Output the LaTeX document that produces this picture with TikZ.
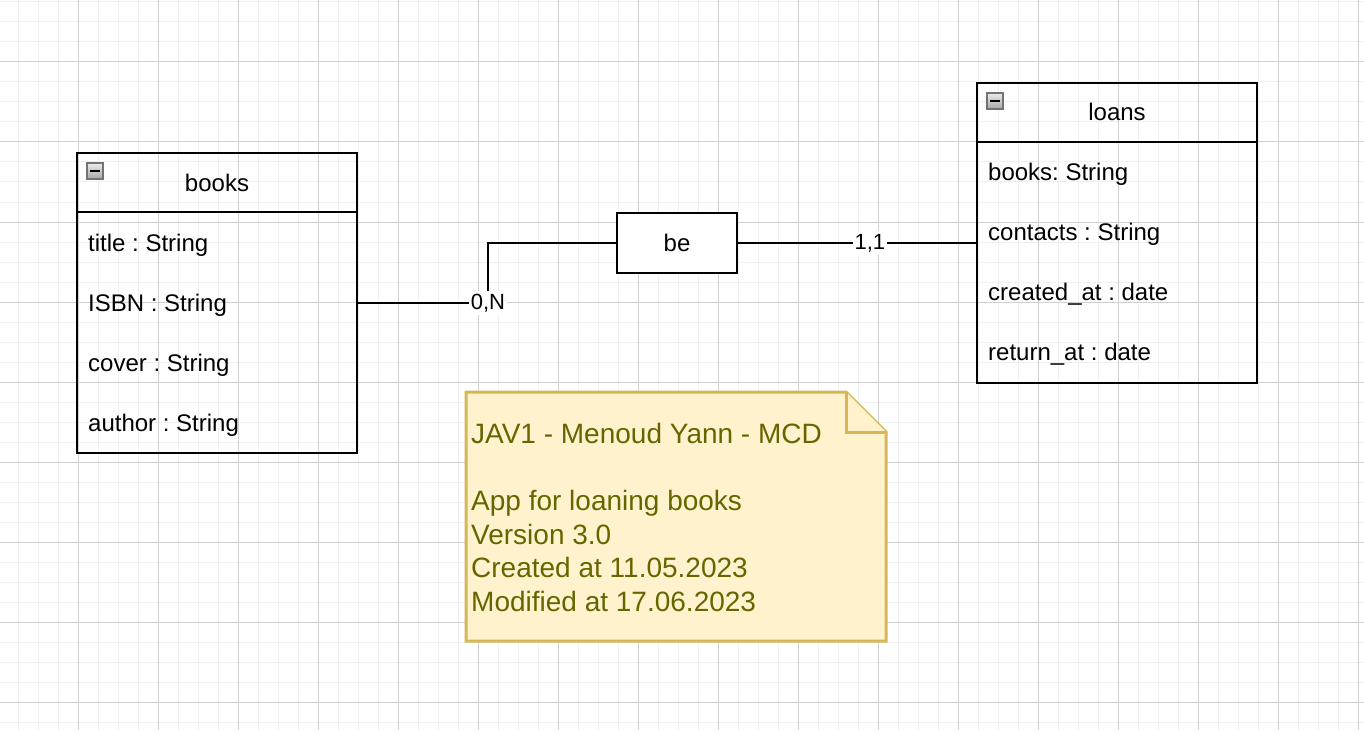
\documentclass[tikz,border=0pt]{standalone}
\usepackage{fontspec}
\setmainfont{Liberation Sans}
\definecolor{gridmajor}{RGB}{208,208,208}
\definecolor{gridminor}{RGB}{240,240,240}
\definecolor{notefill}{HTML}{FFF2CC}
\definecolor{notedraw}{HTML}{D6B656}
\definecolor{notetext}{HTML}{666600}
\begin{document}
\frenchspacing
\begin{tikzpicture}[x=1pt,y=-1pt,
  minorgrid/.style={draw=gridminor,line width=1pt},
  majorgrid/.style={draw=gridmajor,line width=1pt},
  entity/.style={draw=black,line width=2pt,rectangle,minimum width=280pt,minimum height=300pt,inner sep=0pt},
  sepline/.style={draw=black,line width=2pt},
  etitle/.style={font=\fontsize{24}{28.8}\selectfont\frenchspacing,inner sep=0pt,text=black},
  erow/.style={font=\fontsize{24}{28.8}\selectfont\frenchspacing,inner sep=0pt,text=black},
  minusicon/.style={rectangle,draw=black!55,line width=1.2pt,minimum width=16pt,minimum height=16pt,inner sep=0pt,
    top color=white!92!black,bottom color=black!35,
    path picture={\draw[black,line width=2.4pt] ([xshift=3pt]path picture bounding box.west) -- ([xshift=-3pt]path picture bounding box.east);}},
  relbox/.style={draw=black,fill=white,line width=2pt,rectangle,minimum width=120pt,minimum height=60pt,inner sep=0pt,font=\fontsize{24}{28.8}\selectfont},
  conn/.style={draw=black,line width=2pt},
  lbl/.style={fill=white,inner xsep=2pt,inner ysep=3pt,font=\fontsize{22}{26}\selectfont,text=black},
  notebox/.style={draw=notedraw,fill=notefill,line width=3pt,line join=miter},
  notetxt/.style={font=\fontsize{28}{33.6}\selectfont\frenchspacing,text=notetext,align=left,inner sep=0pt}
]
\useasboundingbox (0,0) rectangle (1364,730);
\fill[white] (0,0) rectangle (1364,730);
% grid
\foreach \x in {18,38,...,1358} \draw[minorgrid] (\x,0) -- (\x,730);
\foreach \y in {2,22,...,722} \draw[minorgrid] (0,\y) -- (1364,\y);
\foreach \x in {78,158,...,1358} \draw[majorgrid] (\x,0) -- (\x,730);
\foreach \y in {62,142,...,702} \draw[majorgrid] (0,\y) -- (1364,\y);

% books entity
\node[entity] (books) at (217,303) {};
\draw[sepline] ([yshift=-60pt]books.north west) -- ([yshift=-60pt]books.north east);
\node[minusicon] (booksI) at (95,171) {};
\node[etitle,anchor=base] (booksT) at (217,191) {books};
\node[erow,anchor=base west] (b1) at (88,251) {title : String};
\node[erow,anchor=base west] (b2) at (88,311) {ISBN : String};
\node[erow,anchor=base west] (b3) at (88,371) {cover : String};
\node[erow,anchor=base west] (b4) at (88,431) {author : String};

% loans entity
\node[entity] (loans) at (1117,233) {};
\draw[sepline] ([yshift=-60pt]loans.north west) -- ([yshift=-60pt]loans.north east);
\node[minusicon] (loansI) at (995,101) {};
\node[etitle,anchor=base] (loansT) at (1117,121) {loans};
\node[erow,anchor=base west] (l1) at (988,180) {books: String};
\node[erow,anchor=base west] (l2) at (988,240) {contacts : String};
\node[erow,anchor=base west] (l3) at (988,300) {created\_at : date};
\node[erow,anchor=base west] (l4) at (988,360) {return\_at : date};

% relation
\node[relbox] (be) at (677,243) {be};

% connectors
\draw[conn] (books.east) -- ++(130,0) node[lbl] (lblA) {0,N} |- (be.west);
\draw[conn] (be.east) -- (be.east -| loans.west) node[lbl,pos=0.554] (lblB) {1,1};

% note
\draw[notebox] (466,392) -- (846,392) -- (886,432) -- (886,641) -- (466,641) -- cycle;
\draw[notebox] (846,392) -- (846,432) -- (886,432);
\node[notetxt,anchor=north west] (note) at (471,423) {JAV1 - Menoud Yann - MCD\\[33.6pt]App for loaning books\\Version 3.0\\Created at 11.05.2023\\Modified at 17.06.2023};
\end{tikzpicture}
\end{document}
